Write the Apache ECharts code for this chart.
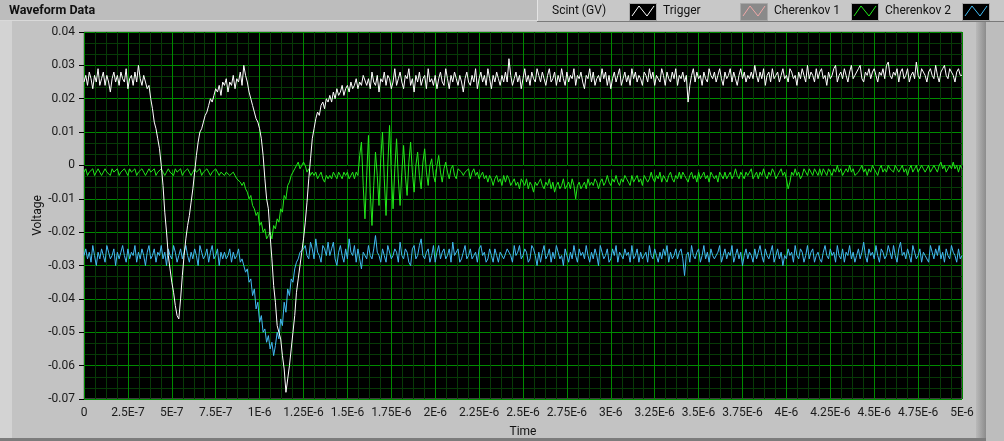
<!DOCTYPE html>
<html>
<head>
<meta charset="utf-8">
<script src="https://cdn.jsdelivr.net/npm/echarts@6/dist/echarts.min.js"></script>
<style>
html,body{margin:0;padding:0;background:#bdbdbd;}
#chart{width:1004px;height:441px;}
</style>
</head>
<body>
<div id="chart"></div>
<script>
// ---- Data (voltages in mV, sampled every 10 ns from t0 = 0) ----
const t0Ns = 0;
const dtNs = 10;

const seriesNames = ['Scint (GV)', 'Trigger', 'Cherenkov 1', 'Cherenkov 2'];
const seriesColors = ['#ffffff', '#f0a8a8', '#22ea1a', '#42bbf2'];

const scint = [
  25,27,24,28,26,23,27,25,29,24,26,28,24,27,25,22,26,28,25,27,
  24,28,26,25,29,23,26,27,24,28,25,30,26,24,27,25,23,24,20,17,
  13,11,8,5,0,-6,-14,-20,-27,-31,-35,-38,-42,-45,-46,-40,-33,-27,-22,-18,
  -15,-11,-7,-2,3,7,10,11,13,15,16,18,20,19,21,23,22,24,21,25,
  24,26,22,25,24,27,23,26,25,28,24,30,27,25,22,20,18,16,14,13,
  11,8,3,-4,-10,-13,-21,-28,-36,-41,-48,-50,-52,-57,-61,-68,-64,-60,-55,-50,
  -45,-38,-34,-30,-26,-22,-17,-11,-4,2,8,11,14,16,15,18,19,17,20,19,
  21,19,22,20,23,21,22,24,21,23,24,22,25,23,24,26,23,25,24,27,
  27,24,26,23,28,25,24,27,22,26,25,28,24,27,26,23,25,29,24,26,
  28,25,23,27,26,29,24,26,22,27,25,28,24,26,27,23,29,25,26,24,
  27,23,26,28,25,24,29,26,23,27,25,28,26,24,27,25,22,26,28,25,
  24,27,25,29,23,26,28,25,27,24,29,26,23,27,25,28,26,24,27,25,
  28,25,32,27,24,26,28,25,27,23,26,29,25,27,24,28,26,25,29,27,
  25,28,26,24,27,29,25,26,28,24,27,25,29,26,24,28,25,27,26,29,
  24,27,26,28,25,23,27,26,29,25,28,24,26,27,25,29,26,28,24,27,
  23,26,28,25,27,29,24,26,28,25,27,24,29,26,28,25,27,26,24,28,
  27,25,29,26,28,24,27,26,25,29,27,24,28,26,25,28,26,29,24,27,
  26,28,25,27,19,24,27,29,25,28,26,27,24,28,26,25,29,27,26,28,
  25,27,29,26,24,28,26,27,29,25,28,26,24,27,29,26,28,25,27,26,
  28,26,30,27,25,28,26,29,24,27,28,25,29,26,27,28,25,27,29,26,
  27,25,29,28,26,27,24,28,26,29,27,25,30,26,28,27,25,29,26,28,
  29,26,27,24,28,26,27,29,30,25,27,28,26,29,27,25,28,30,26,27,
  27,29,30,26,25,28,27,29,26,28,29,27,25,28,27,29,26,30,31,27,
  26,28,27,29,25,28,29,26,27,29,25,27,28,26,31,27,26,29,28,27,
  25,28,29,27,26,30,27,25,28,29,30,27,26,29,28,27,25,28,29,27,
  27
];

const trigger = [];

const cherenkov1 = [
  -2,-1,-3,-2,-2,-1,-3,-2,-1,-2,-3,-2,-1,-2,-2,-3,-1,-2,-2,-1,
  -3,-2,-2,-1,-2,-3,-1,-2,-2,-1,-3,-2,-2,-1,-2,-3,-2,-1,-2,-2,
  -1,-3,-2,-2,-1,-2,-3,-2,-1,-2,-2,-3,-1,-2,-2,-1,-3,-2,-2,-1,
  -2,-3,-2,-1,-2,-2,-1,-3,-2,-2,-1,-2,-3,-2,-2,-1,-2,-3,-2,-2,
  -3,-2,-2,-3,-3,-2,-3,-4,-4,-5,-6,-5,-7,-8,-10,-9,-12,-13,-15,-14,
  -18,-17,-20,-19,-22,-21,-20,-22,-18,-19,-16,-17,-13,-14,-9,-10,-6,-5,-3,-2,
  -1,0,1,-1,0,1,0,-2,-1,-3,-2,-3,-2,-4,-3,-2,-4,-5,-3,-4,
  -3,-4,-2,-3,-4,-2,-3,-4,-2,-3,-2,-4,-3,-2,-4,-2,-3,3,7,-6,
  -16,-3,9,-8,-18,-6,4,-3,-12,2,10,-4,-15,0,12,-2,-13,-1,8,-4,
  -12,-2,6,-3,-9,1,7,-2,-8,0,4,-3,-7,1,5,-2,-6,0,2,-3,
  -5,0,3,-2,-5,-1,1,-2,-4,-1,0,-3,-4,-1,-1,-2,-3,-2,-2,-1,
  -4,-2,-1,-3,-2,-4,-3,-2,-4,-3,-5,-3,-4,-6,-4,-3,-5,-4,-6,-3,
  -5,-3,-4,-6,-5,-4,-6,-5,-7,-4,-5,-6,-4,-7,-5,-6,-8,-5,-6,-5,
  -4,-6,-7,-5,-6,-4,-7,-5,-8,-6,-5,-7,-6,-4,-7,-6,-5,-7,-4,-6,
  -10,-6,-5,-7,-6,-5,-7,-4,-6,-5,-6,-4,-5,-7,-5,-4,-6,-5,-3,-5,
  -6,-4,-5,-3,-5,-6,-4,-5,-3,-4,-5,-6,-3,-5,-4,-3,-5,-4,-6,-3,
  -3,-5,-4,-2,-4,-5,-3,-4,-2,-5,-3,-4,-5,-3,-2,-4,-5,-3,-4,-2,
  -4,-2,-3,-4,-5,-3,-2,-4,-3,-5,-2,-4,-3,-2,-4,-3,-5,-2,-3,-4,
  -3,-5,-2,-3,-4,-2,-4,-3,-2,-4,-3,-1,-3,-4,-2,-3,-4,-2,-3,-2,
  -1,-4,-3,-2,-4,-2,-3,-1,-3,-4,-2,-3,-1,-2,-4,-3,-2,-1,-3,-2,
  -4,-7,-5,-2,-3,-1,-3,-2,-4,-3,-1,-2,-3,-1,-2,-3,-1,-2,-3,-1,
  -3,-1,-2,-3,-1,-2,-3,-1,-2,0,-2,-1,-3,-2,-1,-2,0,-2,-1,-3,
  -3,-2,-1,0,-2,-1,-3,-1,-2,0,-1,-2,-3,-1,0,-2,-1,-2,0,-1,
  -1,-2,0,-1,-2,-1,0,-2,-1,-3,-1,0,-2,-1,0,-2,-1,0,-1,-2,
  -1,0,-2,-1,0,-1,-2,0,1,-1,0,-2,-1,0,-1,1,-1,0,-2,0,
  -1
];

const cherenkov2 = [
  -27,-25,-28,-26,-29,-24,-27,-30,-26,-28,-25,-27,-29,-24,-26,-28,-27,-25,-30,-26,
  -28,-26,-24,-27,-29,-25,-28,-26,-27,-24,-29,-26,-28,-25,-27,-30,-26,-24,-28,-27,
  -25,-29,-26,-27,-24,-28,-26,-30,-25,-27,-28,-24,-26,-29,-27,-25,-28,-26,-24,-27,
  -29,-26,-28,-25,-27,-30,-24,-26,-28,-27,-25,-29,-26,-24,-28,-27,-25,-30,-26,-28,
  -26,-28,-27,-25,-29,-26,-28,-27,-25,-29,-28,-30,-32,-31,-35,-34,-39,-37,-43,-41,
  -47,-45,-50,-49,-53,-51,-55,-53,-57,-54,-50,-52,-46,-48,-41,-44,-37,-39,-34,-35,
  -31,-29,-28,-26,-26,-25,-24,-27,-28,-23,-25,-28,-22,-26,-27,-29,-24,-25,-27,-23,
  -27,-25,-23,-28,-30,-26,-24,-27,-29,-25,-28,-22,-26,-27,-24,-29,-25,-28,-31,-26,
  -26,-28,-24,-27,-28,-25,-21,-26,-27,-29,-25,-27,-29,-24,-24,-28,-27,-25,-26,-29,
  -23,-27,-28,-25,-26,-29,-30,-25,-24,-28,-27,-24,-22,-27,-28,-26,-25,-29,-27,-24,
  -29,-26,-24,-28,-26,-25,-28,-27,-25,-29,-23,-27,-27,-25,-29,-28,-26,-24,-28,-27,
  -25,-28,-27,-26,-29,-25,-24,-27,-26,-29,-28,-25,-27,-29,-25,-27,-29,-26,-26,-28,
  -28,-25,-26,-27,-29,-24,-27,-26,-24,-28,-27,-25,-26,-29,-28,-24,-25,-27,-30,-26,
  -29,-26,-24,-28,-27,-25,-29,-26,-28,-24,-26,-28,-27,-30,-25,-27,-29,-26,-28,-24,
  -27,-29,-25,-27,-26,-28,-24,-27,-29,-26,-28,-25,-27,-30,-24,-26,-28,-27,-25,-29,
  -28,-25,-27,-24,-29,-26,-27,-28,-25,-27,-26,-29,-24,-28,-27,-25,-29,-26,-28,-27,
  -26,-29,-24,-27,-28,-25,-27,-29,-26,-28,-25,-27,-24,-29,-26,-28,-27,-25,-28,-26,
  -25,-28,-33,-27,-26,-29,-24,-27,-28,-26,-25,-29,-27,-24,-28,-26,-29,-25,-27,-28,
  -28,-26,-24,-29,-27,-25,-28,-26,-27,-24,-29,-27,-25,-28,-26,-30,-27,-25,-28,-26,
  -27,-29,-25,-28,-26,-24,-27,-29,-25,-27,-28,-26,-24,-29,-27,-25,-28,-26,-30,-27,
  -28,-25,-27,-26,-29,-24,-27,-28,-25,-26,-29,-27,-24,-28,-26,-25,-29,-27,-26,-28,
  -29,-26,-24,-27,-28,-25,-27,-26,-29,-24,-27,-28,-25,-29,-26,-27,-24,-28,-26,-29,
  -27,-25,-28,-26,-23,-27,-29,-25,-27,-26,-28,-24,-27,-29,-25,-26,-28,-27,-24,-26,
  -28,-24,-27,-29,-25,-23,-27,-26,-28,-25,-27,-29,-24,-26,-28,-27,-25,-29,-26,-27,
  -27,-29,-24,-26,-28,-25,-27,-24,-28,-26,-29,-25,-27,-28,-24,-26,-27,-29,-25,-28,
  -27
];

const xTickLabels = ['0','2.5E-7','5E-7','7.5E-7','1E-6','1.25E-6','1.5E-6','1.75E-6','2E-6','2.25E-6','2.5E-6',
  '2.75E-6','3E-6','3.25E-6','3.5E-6','3.75E-6','4E-6','4.25E-6','4.5E-6','4.75E-6','5E-6'];
const yTickLabels = ['-0.07','-0.06','-0.05','-0.04','-0.03','-0.02','-0.01','0','0.01','0.02','0.03','0.04'];

// ---- Chart ----
const FONT = 'Roboto, "Liberation Sans", sans-serif';
const chart = echarts.init(document.getElementById('chart'), null, {renderer: 'canvas'});

function toPoints(values) {
  return values.map((v, i) => [t0Ns + i * dtNs, v]);
}
const valueSets = [scint, trigger, cherenkov1, cherenkov2];

const drawOrder = [1, 2, 3, 0]; // white trace on top
const series = drawOrder.map(k => ({
  name: seriesNames[k],
  type: 'line',
  data: toPoints(valueSets[k]),
  showSymbol: false,
  symbol: 'none',
  lineStyle: {color: seriesColors[k], width: 1},
  itemStyle: {color: seriesColors[k]},
  z: 3 + drawOrder.indexOf(k)
}));

const graphics = [
  {type: 'rect', shape: {x: 0, y: 0, width: 1004, height: 441}, style: {fill: '#bdbdbd'}, z: -20, silent: true},
  {type: 'rect', shape: {x: 0, y: 21, width: 976, height: 418}, style: {fill: '#c3c3c3'}, z: -19, silent: true},
  {type: 'rect', shape: {x: 0, y: 21, width: 12, height: 418}, style: {fill: '#d3d3d3'}, z: -18, silent: true},
  {type: 'rect', shape: {x: 0, y: 20, width: 976, height: 1}, style: {fill: '#d9d9d9'}, z: -18, silent: true},
  {type: 'rect', shape: {x: 976, y: 21, width: 10, height: 418},
    style: {fill: new echarts.graphic.LinearGradient(0, 0, 1, 0, [{offset: 0, color: '#b9b9b9'}, {offset: 1, color: '#8c8c8c'}])}, z: -18, silent: true},
  {type: 'rect', shape: {x: 0, y: 438, width: 986, height: 3}, style: {fill: '#7c7c7c'}, z: -18, silent: true},
  {type: 'text', x: 9, y: 11, style: {text: 'Waveform Data', font: 'bold 12.5px ' + FONT, fill: '#111', verticalAlign: 'middle'}, z: 10, silent: true},
  {type: 'rect', shape: {x: 537, y: 0, width: 467, height: 21}, style: {fill: '#c8c8c8'}, z: 10, silent: true},
  {type: 'rect', shape: {x: 537, y: 21, width: 467, height: 1}, style: {fill: '#7a7a7a'}, z: 10, silent: true},
  {type: 'rect', shape: {x: 537, y: 0, width: 1, height: 21}, style: {fill: '#e4e4e4'}, z: 10, silent: true}
];
seriesNames.forEach((name, i) => {
  const tx = 552 + i * 111;
  const ix = 629 + i * 111;
  graphics.push({type: 'text', x: tx, y: 11, style: {text: name, font: '12px ' + FONT, fill: '#111', verticalAlign: 'middle'}, z: 11, silent: true});
  graphics.push({type: 'rect', shape: {x: ix + 0.5, y: 3.5, width: 27, height: 17},
    style: {fill: i === 1 ? '#8a8a8a' : '#000', stroke: '#a8a8a8', lineWidth: 1}, z: 11, silent: true});
  graphics.push({type: 'polyline', shape: {points: [[ix + 3, 16], [ix + 10, 6], [ix + 18, 16], [ix + 25, 6]]},
    style: {stroke: seriesColors[i], lineWidth: 1, fill: null}, z: 12, silent: true});
});

const option = {
  animation: false,
  backgroundColor: 'transparent',
  graphic: graphics,
  grid: {left: 84, top: 32, width: 878, height: 367, show: true, backgroundColor: '#000', borderColor: '#7a7a7a', borderWidth: 1,
    containLabel: false, outerBoundsMode: 'none'},
  xAxis: {
    type: 'value', min: 0, max: 5000, interval: 250,
    name: 'Time', nameLocation: 'middle', nameGap: 27, nameMoveOverlap: false,
    nameTextStyle: {fontFamily: FONT, fontSize: 12, color: '#111'},
    axisLine: {show: false},
    axisTick: {show: true, length: 4, lineStyle: {color: '#000'}},
    axisLabel: {margin: 8, fontFamily: FONT, fontSize: 12, color: '#1a1a1a', hideOverlap: false,
      formatter: v => xTickLabels[Math.round(v / 250)]},
    splitLine: {show: true, lineStyle: {color: '#008a00', width: 1}},
    minorTick: {show: false, splitNumber: 4},
    minorSplitLine: {show: true, lineStyle: {color: '#073a07', width: 1}}
  },
  yAxis: {
    type: 'value', min: -70, max: 40, interval: 10,
    name: 'Voltage', nameLocation: 'middle', nameGap: 40, nameMoveOverlap: false,
    nameTextStyle: {fontFamily: FONT, fontSize: 12, color: '#111'},
    axisLine: {show: false},
    axisTick: {show: true, length: 5, lineStyle: {color: '#000'}},
    axisLabel: {margin: 9, fontFamily: FONT, fontSize: 12, color: '#1a1a1a',
      formatter: v => yTickLabels[Math.round((v + 70) / 10)]},
    splitLine: {show: true, lineStyle: {color: '#008a00', width: 1}},
    minorTick: {show: false, splitNumber: 3},
    minorSplitLine: {show: true, lineStyle: {color: '#073a07', width: 1}}
  },
  series: series
};
chart.setOption(option);
</script>
</body>
</html>
